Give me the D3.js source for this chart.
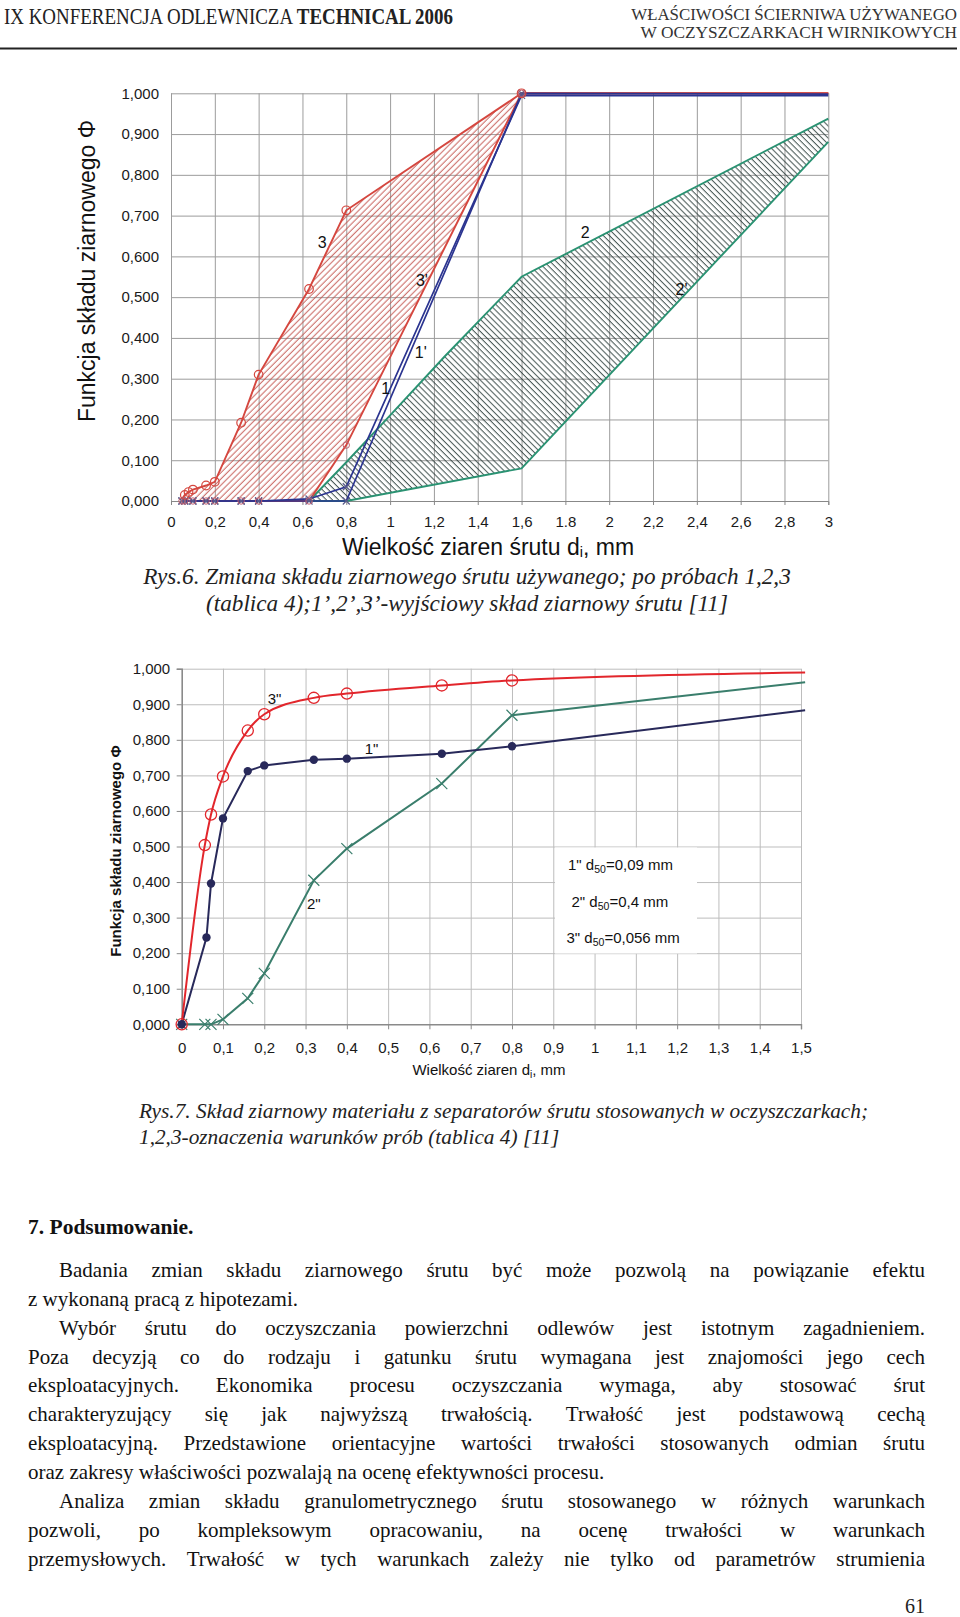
<!DOCTYPE html>
<html><head><meta charset="utf-8">
<script src="https://cdn.jsdelivr.net/npm/d3@7/dist/d3.min.js"></script>
<style>html,body{margin:0;padding:0;background:#fff;} svg{display:block;}</style>
</head><body>
<script>
const SANS = "'Liberation Sans', Arial, Helvetica, sans-serif";
const SERIF = "'Liberation Serif', 'Times New Roman', Times, serif";

// ================= DATA =================
// header
const headerLeftA = "IX KONFERENCJA ODLEWNICZA ";
const headerLeftB = "TECHNICAL 2006";
const headerRight = ["WŁAŚCIWOŚCI ŚCIERNIWA UŻYWANEGO", "W OCZYSZCZARKACH WIRNIKOWYCH"];

// ---- Chart 1 (Rys.6) ----
const c1XTickVals = [0, 0.2, 0.4, 0.6, 0.8, 1, 1.2, 1.4, 1.6, 1.8, 2, 2.2, 2.4, 2.6, 2.8, 3];
const c1XTickLabels = ["0", "0,2", "0,4", "0,6", "0,8", "1", "1,2", "1,4", "1,6", "1.8", "2", "2,2", "2,4", "2,6", "2,8", "3"];
const c1YTickVals = [0, 0.1, 0.2, 0.3, 0.4, 0.5, 0.6, 0.7, 0.8, 0.9, 1.0];
const c1YTickLabels = ["0,000", "0,100", "0,200", "0,300", "0,400", "0,500", "0,600", "0,700", "0,800", "0,900", "1,000"];
const c1YTitle = "Funkcja składu ziarnowego Φ";
const c1XTitle = ["Wielkość ziaren śrutu d", "i", ", mm"];

// series 3 (after test) and 3' (initial)
const s3_x = [0.05, 0.063, 0.08, 0.1, 0.16, 0.2, 0.32, 0.4, 0.63, 0.8, 1.6, 3];
const s3_y = [0.005, 0.015, 0.022, 0.028, 0.038, 0.047, 0.192, 0.31, 0.52, 0.713, 1.0, 1.0];
const s3p_x = [0.05, 0.063, 0.1, 0.16, 0.2, 0.32, 0.4, 0.63, 0.8, 1.6, 3];
const s3p_y = [0, 0, 0, 0, 0, 0, 0, 0, 0.137, 1.0, 1.0];
// series 1 and 1'
const s1_x = [0.05, 0.063, 0.1, 0.16, 0.2, 0.32, 0.4, 0.63, 0.8, 1.6, 3];
const s1_y = [0, 0, 0, 0, 0, 0, 0, 0.005, 0.035, 0.995, 0.994];
const s1p_x = [0.05, 0.063, 0.1, 0.16, 0.2, 0.32, 0.4, 0.63, 0.8, 1.6, 3];
const s1p_y = [0, 0, 0, 0, 0, 0, 0, 0, 0, 1.0, 0.998];
// series 2 and 2'
const s2_x = [0.63, 0.8, 1.0, 1.25, 1.6, 3];
const s2_y = [0, 0.095, 0.21, 0.355, 0.55, 0.938];
const s2p_x = [0.63, 0.8, 1.6, 3];
const s2p_y = [0, 0, 0.08, 0.881];
const c1Labels = [
  {t: "3", x: 0.69, y: 0.635}, {t: "3'", x: 1.145, y: 0.54},
  {t: "2", x: 1.89, y: 0.66}, {t: "2'", x: 2.33, y: 0.52},
  {t: "1'", x: 1.14, y: 0.365}, {t: "1", x: 0.98, y: 0.275}
];
const caption6 = ["Rys.6. Zmiana składu ziarnowego śrutu używanego; po próbach 1,2,3",
                  "(tablica 4);1’,2’,3’-wyjściowy skład ziarnowy śrutu [11]"];

// ---- Chart 2 (Rys.7) ----
const c2XTickVals = [0, 0.1, 0.2, 0.3, 0.4, 0.5, 0.6, 0.7, 0.8, 0.9, 1.0, 1.1, 1.2, 1.3, 1.4, 1.5];
const c2XTickLabels = ["0", "0,1", "0,2", "0,3", "0,4", "0,5", "0,6", "0,7", "0,8", "0,9", "1", "1,1", "1,2", "1,3", "1,4", "1,5"];
const c2YTickVals = [0, 0.1, 0.2, 0.3, 0.4, 0.5, 0.6, 0.7, 0.8, 0.9, 1.0];
const c2YTickLabels = ["0,000", "0,100", "0,200", "0,300", "0,400", "0,500", "0,600", "0,700", "0,800", "0,900", "1,000"];
const c2YTitle = "Funkcja składu ziarnowego Φ";
const c2XTitle = ["Wielkość ziaren d", "i", ", mm"];
const s3pp_x = [0, 0.056, 0.071, 0.1, 0.16, 0.2, 0.32, 0.4, 0.63, 0.8, 1.51];
const s3pp_y = [0, 0.504, 0.59, 0.697, 0.826, 0.872, 0.918, 0.93, 0.953, 0.967, 0.989];
const s1pp_x = [0, 0.06, 0.071, 0.1, 0.16, 0.2, 0.32, 0.4, 0.63, 0.8, 1.51];
const s1pp_y = [0, 0.244, 0.396, 0.579, 0.712, 0.728, 0.744, 0.747, 0.761, 0.782, 0.883];
const s2pp_x = [0, 0.056, 0.071, 0.1, 0.16, 0.2, 0.32, 0.4, 0.63, 0.8, 1.51];
const s2pp_y = [0, 0, 0, 0.014, 0.073, 0.143, 0.405, 0.494, 0.677, 0.869, 0.962];
const c2Labels = [{t: '3"', x: 0.225, y: 0.915}, {t: '1"', x: 0.46, y: 0.775}, {t: '2"', x: 0.32, y: 0.34}];
const c2Legend = [["1\" d", "50", "=0,09 mm"], ["2\" d", "50", "=0,4 mm"], ["3\" d", "50", "=0,056 mm"]];
const caption7 = ["Rys.7. Skład ziarnowy materiału z separatorów śrutu stosowanych w oczyszczarkach;",
                  "1,2,3-oznaczenia warunków prób (tablica 4) [11]"];

// ---- body text ----
const sectionTitle = "7. Podsumowanie.";
const bodyLines = [
  ["Badania zmian składu ziarnowego śrutu być może pozwolą na powiązanie efektu", true, true],
  ["z wykonaną pracą z hipotezami.", false, false],
  ["Wybór śrutu do oczyszczania powierzchni odlewów jest istotnym zagadnieniem.", true, true],
  ["Poza decyzją co do rodzaju i gatunku śrutu wymagana jest znajomości jego cech", false, true],
  ["eksploatacyjnych. Ekonomika procesu oczyszczania wymaga, aby stosować śrut", false, true],
  ["charakteryzujący się jak najwyższą trwałością. Trwałość jest podstawową cechą", false, true],
  ["eksploatacyjną. Przedstawione orientacyjne wartości trwałości stosowanych odmian śrutu", false, true],
  ["oraz zakresy właściwości pozwalają na ocenę efektywności procesu.", false, false],
  ["Analiza zmian składu granulometrycznego śrutu stosowanego w różnych warunkach", true, true],
  ["pozwoli, po kompleksowym opracowaniu, na ocenę trwałości w warunkach", false, true],
  ["przemysłowych. Trwałość w tych warunkach zależy nie tylko od parametrów strumienia", false, true]
];
const pageNumber = "61";

// ================= DRAWING =================
const svg = d3.select("body").append("svg").attr("width", 960).attr("height", 1617);
const zip = (xs, ys) => xs.map((x, i) => [x, ys[i]]);

// defs: hatch patterns
const defs = svg.append("defs");
const pr = defs.append("pattern").attr("id", "hatchRed").attr("patternUnits", "userSpaceOnUse")
  .attr("width", 4.4).attr("height", 4.4).attr("patternTransform", "rotate(45)");
pr.append("line").attr("x1", 2).attr("x2", 2).attr("y1", 0).attr("y2", 4.4)
  .attr("stroke", "#c24f4a").attr("stroke-width", 0.9);
const pg = defs.append("pattern").attr("id", "hatchGreen").attr("patternUnits", "userSpaceOnUse")
  .attr("width", 4.3).attr("height", 4.3).attr("patternTransform", "rotate(-45)");
pg.append("line").attr("x1", 2).attr("x2", 2).attr("y1", 0).attr("y2", 4.3)
  .attr("stroke", "#1f3330").attr("stroke-width", 0.85);

// ---------- header ----------
const hl = svg.append("text").attr("font-family", SERIF).attr("font-size", 24).attr("fill", "#222")
  .style("white-space", "pre");
hl.append("tspan").text(headerLeftA);
hl.append("tspan").attr("font-weight", "bold").text(headerLeftB);
const hlw = hl.node().getBBox().width;
hl.attr("transform", `translate(4,24) scale(${449 / hlw},1)`);

const hrW = [326, 317], hrY = [19.5, 38];
headerRight.forEach((t, i) => {
  const tx = svg.append("text").attr("font-family", SERIF).attr("font-size", 17.5).attr("fill", "#333")
    .attr("text-anchor", "end").text(t);
  const w = tx.node().getBBox().width;
  tx.attr("transform", `translate(957,${hrY[i]}) scale(${hrW[i] / w},1)`);
});
svg.append("line").attr("x1", 0).attr("x2", 957).attr("y1", 48.5).attr("y2", 48.5)
  .attr("stroke", "#222").attr("stroke-width", 2);

// ---------- chart 1 ----------
const c1 = svg.append("g");
const x1 = d3.scaleLinear().domain([0, 3]).range([171, 828.3]);
const y1 = d3.scaleLinear().domain([0, 1]).range([501, 93.3]);

const gy1 = c1.append("g").attr("transform", `translate(${x1(0)},0)`)
  .call(d3.axisLeft(y1).tickValues(c1YTickVals).tickSize(-(x1(3) - x1(0))).tickPadding(12)
    .tickFormat((d, i) => c1YTickLabels[i]));
gy1.select(".domain").remove();
gy1.selectAll("line").attr("stroke", "#9c9c9c").attr("stroke-width", 1);
gy1.selectAll("text").attr("font-family", SANS).attr("font-size", 15).attr("fill", "#1a1a1a");

const gx1 = c1.append("g").attr("transform", `translate(0,${y1(0)})`)
  .call(d3.axisBottom(x1).tickValues(c1XTickVals).tickSize(-(y1(0) - y1(1))).tickPadding(15)
    .tickFormat((d, i) => c1XTickLabels[i]));
gx1.select(".domain").remove();
gx1.selectAll("line").attr("stroke", "#9c9c9c").attr("stroke-width", 1);
gx1.selectAll("text").attr("font-family", SANS).attr("font-size", 15).attr("fill", "#1a1a1a");
const gx1t = c1.append("g").attr("transform", `translate(0,${y1(0)})`)
  .call(d3.axisBottom(x1).tickValues(c1XTickVals).tickSize(4).tickFormat(""));
gx1t.select(".domain").attr("stroke", "#888");
gx1t.selectAll("line").attr("stroke", "#888");

const line1 = d3.line().x(d => x1(d[0])).y(d => y1(d[1]));

// hatched areas
const redPoly = zip(s3_x, s3_y).filter(d => d[0] <= 1.6).concat(zip(s3p_x, s3p_y).filter(d => d[0] <= 1.6).reverse());
c1.append("path").attr("d", line1(redPoly) + "Z").attr("fill", "url(#hatchRed)");
const greenPoly = zip(s2_x, s2_y).concat(zip(s2p_x, s2p_y).reverse());
c1.append("path").attr("d", line1(greenPoly) + "Z").attr("fill", "url(#hatchGreen)");

const GREEN1 = "#2a9272", RED1 = "#d5473f", BLUE1 = "#2b3490";
[[s2_x, s2_y], [s2p_x, s2p_y]].forEach(([xs, ys]) =>
  c1.append("path").attr("d", line1(zip(xs, ys))).attr("fill", "none").attr("stroke", GREEN1).attr("stroke-width", 1.9));
[[s3_x, s3_y], [s3p_x, s3p_y]].forEach(([xs, ys]) =>
  c1.append("path").attr("d", line1(zip(xs, ys))).attr("fill", "none").attr("stroke", RED1).attr("stroke-width", 1.9));
[[s1_x, s1_y], [s1p_x, s1p_y]].forEach(([xs, ys]) =>
  c1.append("path").attr("d", line1(zip(xs, ys))).attr("fill", "none").attr("stroke", BLUE1).attr("stroke-width", 1.7));

// markers
const xMark = s => `M${-s},${-s}L${s},${s}M${-s},${s}L${s},${-s}`;
c1.append("g").selectAll("path").data(zip(s1_x, s1_y).slice(0, -1).concat(zip(s1p_x, s1p_y).slice(0, -1)))
  .join("path").attr("transform", d => `translate(${x1(d[0])},${y1(d[1])})`)
  .attr("d", xMark(3.5)).attr("stroke", "#5a5a8a").attr("stroke-width", 1.2).attr("fill", "none");
c1.append("g").selectAll("circle").data(zip(s3p_x, s3p_y).slice(0, -1))
  .join("circle").attr("cx", d => x1(d[0])).attr("cy", d => y1(d[1])).attr("r", 3.2)
  .attr("fill", "none").attr("stroke", "#c06070").attr("stroke-width", 1);
c1.append("g").selectAll("circle").data(zip(s3_x, s3_y).slice(1, -1))
  .join("circle").attr("cx", d => x1(d[0])).attr("cy", d => y1(d[1])).attr("r", 4.3)
  .attr("fill", "none").attr("stroke", RED1).attr("stroke-width", 1.2);

c1.append("g").selectAll("text").data(c1Labels).join("text")
  .attr("x", d => x1(d.x)).attr("y", d => y1(d.y)).attr("text-anchor", "middle").attr("dy", "0.35em")
  .attr("font-family", SANS).attr("font-size", 16).attr("fill", "#111").text(d => d.t);

c1.append("text").attr("transform", `translate(95,271) rotate(-90)`).attr("text-anchor", "middle")
  .attr("font-family", SANS).attr("font-size", 23).attr("fill", "#111").text(c1YTitle);
const xt1 = c1.append("text").attr("x", 488).attr("y", 555).attr("text-anchor", "middle")
  .attr("font-family", SANS).attr("font-size", 23).attr("fill", "#111");
xt1.append("tspan").text(c1XTitle[0]);
xt1.append("tspan").attr("font-size", 14.5).attr("dy", 2).text(c1XTitle[1]);
xt1.append("tspan").attr("dy", -2).text(c1XTitle[2]);

// caption 6 (centred)
const cap6y = [584, 611];
caption6.forEach((t, i) => svg.append("text").attr("x", 467).attr("y", cap6y[i]).attr("text-anchor", "middle")
  .attr("font-family", SERIF).attr("font-style", "italic").attr("font-size", 23.2).attr("fill", "#222").text(t));

// ---------- chart 2 ----------
const c2 = svg.append("g");
const x2 = d3.scaleLinear().domain([0, 1.5]).range([181.7, 801]);
const y2 = d3.scaleLinear().domain([0, 1]).range([1024.3, 668.7]);

const gy2g = c2.append("g").attr("transform", `translate(${x2(0)},0)`)
  .call(d3.axisLeft(y2).tickValues(c2YTickVals.slice(1)).tickSize(-(x2(1.5) - x2(0))).tickFormat(""));
gy2g.select(".domain").remove();
gy2g.selectAll("line").attr("stroke", "#bdbdbd").attr("stroke-width", 1);
const gx2g = c2.append("g").attr("transform", `translate(0,${y2(0)})`)
  .call(d3.axisBottom(x2).tickValues(c2XTickVals.slice(1)).tickSize(-(y2(0) - y2(1))).tickFormat(""));
gx2g.select(".domain").remove();
gx2g.selectAll("line").attr("stroke", "#bdbdbd").attr("stroke-width", 1);

// legend box (covers gridlines)
c2.append("rect").attr("x", 555).attr("y", 847.5).attr("width", 142).attr("height", 106).attr("fill", "#fff");

const gy2 = c2.append("g").attr("transform", `translate(${x2(0)},0)`)
  .call(d3.axisLeft(y2).tickValues(c2YTickVals).tickSize(5).tickPadding(6.5).tickFormat((d, i) => c2YTickLabels[i]));
gy2.select(".domain").attr("stroke", "#8a8a8a").attr("stroke-width", 1.6);
gy2.selectAll("line").attr("stroke", "#8a8a8a");
gy2.selectAll("text").attr("font-family", SANS).attr("font-size", 15).attr("fill", "#1a1a1a");
const gx2 = c2.append("g").attr("transform", `translate(0,${y2(0)})`)
  .call(d3.axisBottom(x2).tickValues(c2XTickVals).tickSize(5).tickPadding(13).tickFormat((d, i) => c2XTickLabels[i]));
gx2.select(".domain").attr("stroke", "#8a8a8a").attr("stroke-width", 1.4);
gx2.selectAll("line").attr("stroke", "#8a8a8a");
gx2.selectAll("text").attr("font-family", SANS).attr("font-size", 15).attr("fill", "#1a1a1a");

const RED2 = "#e2262c", NAVY2 = "#28295a", GREEN2 = "#3a7e6c";
const line2 = d3.line().x(d => x2(d[0])).y(d => y2(d[1]));
const line2s = d3.line().x(d => x2(d[0])).y(d => y2(d[1])).curve(d3.curveMonotoneX);
c2.append("path").attr("d", line2(zip(s2pp_x, s2pp_y))).attr("fill", "none").attr("stroke", GREEN2).attr("stroke-width", 2);
c2.append("path").attr("d", line2(zip(s1pp_x, s1pp_y))).attr("fill", "none").attr("stroke", NAVY2).attr("stroke-width", 2);
c2.append("path").attr("d", line2s(zip(s3pp_x, s3pp_y))).attr("fill", "none").attr("stroke", RED2).attr("stroke-width", 2);

c2.append("g").selectAll("path").data(zip(s2pp_x, s2pp_y).slice(0, -1)).join("path")
  .attr("transform", d => `translate(${x2(d[0])},${y2(d[1])})`).attr("d", xMark(5.5))
  .attr("stroke", GREEN2).attr("stroke-width", 1.2).attr("fill", "none");
c2.append("g").selectAll("circle").data(zip(s1pp_x, s1pp_y).slice(0, -1)).join("circle")
  .attr("cx", d => x2(d[0])).attr("cy", d => y2(d[1])).attr("r", 4.2).attr("fill", NAVY2);
c2.append("g").selectAll("circle").data(zip(s3pp_x, s3pp_y).slice(0, -1)).join("circle")
  .attr("cx", d => x2(d[0])).attr("cy", d => y2(d[1])).attr("r", 5.6)
  .attr("fill", "none").attr("stroke", RED2).attr("stroke-width", 1.3);

c2.append("g").selectAll("text").data(c2Labels).join("text")
  .attr("x", d => x2(d.x)).attr("y", d => y2(d.y)).attr("text-anchor", "middle").attr("dy", "0.35em")
  .attr("font-family", SANS).attr("font-size", 15).attr("fill", "#111").text(d => d.t);

const legX = [568, 571.5, 566.5], legY = [870, 906.5, 943];
c2Legend.forEach((parts, i) => {
  const t = c2.append("text").attr("x", legX[i]).attr("y", legY[i]).attr("font-family", SANS)
    .attr("font-size", 15).attr("fill", "#111");
  t.append("tspan").text(parts[0]);
  t.append("tspan").attr("font-size", 10.5).attr("dy", 3).text(parts[1]);
  t.append("tspan").attr("dy", -3).text(parts[2]);
});

c2.append("text").attr("transform", `translate(121,851) rotate(-90)`).attr("text-anchor", "middle")
  .attr("font-family", SANS).attr("font-size", 15).attr("font-weight", "bold").attr("fill", "#111").text(c2YTitle);
const xt2 = c2.append("text").attr("x", 489).attr("y", 1075).attr("text-anchor", "middle")
  .attr("font-family", SANS).attr("font-size", 15).attr("fill", "#111");
xt2.append("tspan").text(c2XTitle[0]);
xt2.append("tspan").attr("font-size", 10).attr("dy", 3).text(c2XTitle[1]);
xt2.append("tspan").attr("dy", -3).text(c2XTitle[2]);

// caption 7
const cap7y = [1118, 1144];
caption7.forEach((t, i) => svg.append("text").attr("x", 139).attr("y", cap7y[i])
  .attr("font-family", SERIF).attr("font-style", "italic").attr("font-size", 21.3).attr("fill", "#222").text(t));

// ---------- body text ----------
svg.append("text").attr("x", 28).attr("y", 1234).attr("font-family", SERIF).attr("font-weight", "bold")
  .attr("font-size", 21.5).attr("fill", "#111").text(sectionTitle);

const BODY_FS = 21;
const meas = svg.append("text").attr("font-family", SERIF).attr("font-size", BODY_FS).style("visibility", "hidden");
const mw = w => { meas.text(w); return meas.node().getComputedTextLength(); };
const spaceW = mw("a b") - mw("ab");
const bodyG = svg.append("g").attr("font-family", SERIF).attr("font-size", BODY_FS).attr("fill", "#111");
const LEFT = 28, RIGHT = 925, INDENT = 31;
bodyLines.forEach(([txt, indent, just], i) => {
  const y = 1277 + i * 28.87;
  const words = txt.split(" ");
  const widths = words.map(mw);
  const x0 = LEFT + (indent ? INDENT : 0);
  const total = d3.sum(widths);
  const gap = just && words.length > 1 ? (RIGHT - x0 - total) / (words.length - 1) : spaceW;
  let x = x0;
  words.forEach((w, k) => {
    bodyG.append("text").attr("x", x).attr("y", y).text(w);
    x += widths[k] + gap;
  });
});
meas.remove();
svg.append("text").attr("x", 925).attr("y", 1613).attr("text-anchor", "end").attr("font-family", SERIF)
  .attr("font-size", 20).attr("fill", "#222").text(pageNumber);
</script>
</body></html>
